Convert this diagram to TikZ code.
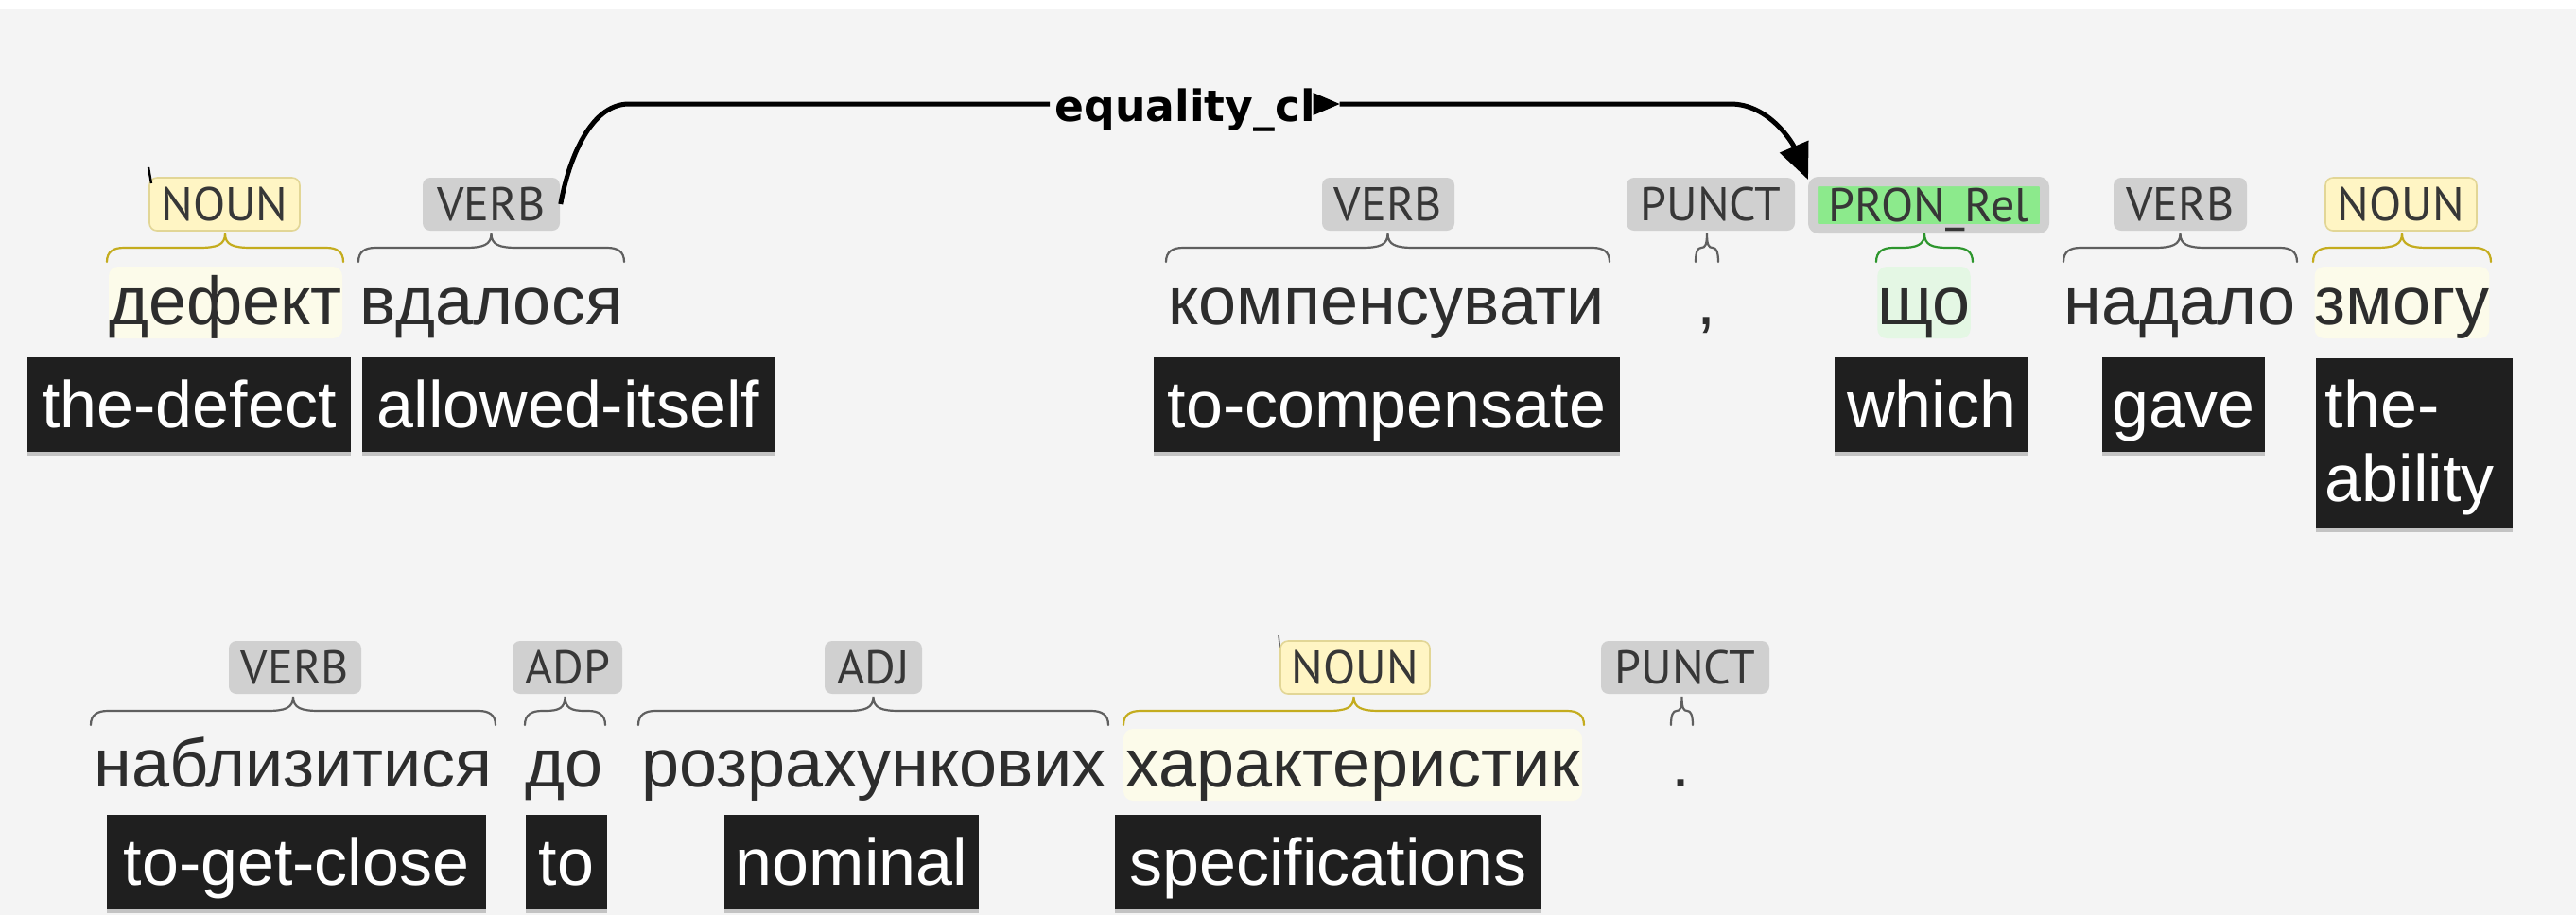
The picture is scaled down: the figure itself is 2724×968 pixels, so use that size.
\documentclass[tikz,border=0pt]{standalone}
\usepackage{fontspec}
\usetikzlibrary{arrows.meta,shadows}
\newfontfamily\tagfont{PT Sans}
\newfontfamily\wordfont{Liberation Sans}
\newfontfamily\arcfont{DejaVu Sans}
\definecolor{canvas}{RGB}{244,244,244}
\definecolor{taggray}{RGB}{208,208,208}
\definecolor{tagink}{RGB}{55,55,55}
\definecolor{nounfill}{RGB}{255,245,196}
\definecolor{nounedge}{RGB}{226,214,150}
\definecolor{pronfill}{RGB}{140,234,140}
\definecolor{wordink}{RGB}{45,45,45}
\definecolor{nounhl}{RGB}{252,251,234}
\definecolor{pronhl}{RGB}{228,247,228}
\definecolor{glossfill}{RGB}{31,31,31}
\definecolor{bracegray}{RGB}{95,95,95}
\definecolor{braceyellow}{RGB}{196,172,30}
\definecolor{bracegreen}{RGB}{45,150,45}

% curly brace from a token span up to its tag: left x, right x, tip y
\newcommand\tokbrace[4][bracegray]{%
  \pgfmathsetmacro\bxl{#2}%
  \pgfmathsetmacro\bxr{#3}%
  \pgfmathsetmacro\bxc{(#2+#3)/2}%
  \pgfmathsetmacro\bew{min(18,(#3-#2)/4)}%
  \pgfmathsetmacro\brw{min(28,(#3-#2)/4)}%
  \pgfmathsetmacro\byt{#4}%
  \pgfmathsetmacro\bym{#4+15}%
  \pgfmathsetmacro\byb{#4+30}%
  \draw[braceline,#1] (\bxl,\byb) .. controls (\bxl,\bym+4) and (\bxl+0.4*\bew,\bym) .. (\bxl+\bew,\bym)
     -- (\bxc-\brw,\bym) .. controls (\bxc-0.3*\brw,\bym) and (\bxc,\bym-3) .. (\bxc,\byt)
     .. controls (\bxc,\bym-3) and (\bxc+0.3*\brw,\bym) .. (\bxc+\brw,\bym)
     -- (\bxr-\bew,\bym) .. controls (\bxr-0.4*\bew,\bym) and (\bxr,\bym+4) .. (\bxr,\byb);
}

\begin{document}
\begin{tikzpicture}[x=0.25pt,y=-0.25pt,
  postag/.style={fill=taggray, rounded corners=2pt, text=tagink,
    font=\tagfont\fontsize{12.5}{14}\selectfont, inner sep=0pt,
    text height=8.75pt, text depth=0pt, minimum height=14pt},
  nountag/.style={postag, fill=nounfill, draw=nounedge, line width=0.4pt},
  tokword/.style={font=\wordfont\fontsize{18}{20}\selectfont, text=wordink,
    inner sep=0pt, text height=15.25pt, text depth=3.75pt,
    rounded corners=2.5pt, anchor=base},
  glossbox/.style={fill=glossfill, inner sep=0pt,
    drop shadow={shadow xshift=0pt, shadow yshift=-1pt, opacity=0.2, fill=black}},
  glosstext/.style={text=white, font=\wordfont\fontsize{17.5}{20}\selectfont, inner sep=0pt},
  gloss/.style={glossbox, glosstext, text height=18.5pt, text depth=6.5pt, anchor=base},
  braceline/.style={line width=0.55pt, line cap=round},
  arcline/.style={line width=1.25pt, black},
  arclabel/.style={font=\arcfont\bfseries\fontsize{11.4}{13}\selectfont,
    inner xsep=1.25pt, inner ysep=0pt, text=black},
]
% canvas
\fill[white] (0,0) rectangle (2724,968);
\fill[canvas] (0,10) rectangle (2724,968);
\useasboundingbox (0,0) rectangle (2724,968);

% ---------- first line: tags ----------
\node[nountag, minimum width=39.75pt] (t1) at (237.5,216) {NOUN};
\node[postag, minimum width=36.25pt] (t2) at (519.5,216) {VERB};
\node[postag, minimum width=35pt]    (t3) at (1468,216) {VERB};
\node[postag, minimum width=44.5pt]  (t4) at (1809,216) {PUNCT};
\node[postag, fill=pronfill, draw=taggray, line width=2.5pt, rounded corners=1.5pt,
      minimum width=61.25pt, minimum height=12.5pt] (pron) at (2039.5,217) {PRON\_Rel};
\node[postag, minimum width=35.25pt] (t6) at (2305.5,216) {VERB};
\node[nountag, minimum width=40pt]   (t7) at (2539,216) {NOUN};

% ---------- first line: braces ----------
\tokbrace[braceyellow]{113}{363}{247}
\tokbrace{379}{660}{247}
\tokbrace{1233}{1702}{247}
\tokbrace{1793}{1817}{247}
\tokbrace[bracegreen]{1984}{2086}{247}
\tokbrace{2182}{2429}{247}
\tokbrace[braceyellow]{2446}{2634}{247}

% ---------- first line: tokens ----------
\node[tokword, fill=nounhl, minimum width=61.75pt] (w1) at (238.5,343) {дефект};
\node[tokword] (w2) at (519.5,343) {вдалося};
\node[tokword] (w3) at (1466,343) {компенсувати};
\node[tokword] (w4) at (1804,343) {,};
\node[tokword, fill=pronhl, minimum width=24.5pt] (w5) at (2034.5,343) {що};
\node[tokword] (w6) at (2305,343) {надало};
\node[tokword, fill=nounhl, minimum width=46pt] (w7) at (2540,343) {змогу};

% ---------- first line: glosses ----------
\node[gloss, minimum width=85.5pt]   (g1) at (200,452) {the-defect};
\node[gloss, minimum width=109pt]    (g2) at (601,452) {allowed-itself};
\node[gloss, minimum width=123.25pt] (g3) at (1466.5,452) {to-compensate};
\node[gloss, minimum width=51.25pt]  (g5) at (2042.5,452) {which};
\node[gloss, minimum width=43pt]     (g6) at (2309,452) {gave};
\node[glossbox, anchor=north west, minimum width=52pt, minimum height=45pt] (g7) at (2448,378) {};
\node[glosstext, anchor=base west] (g7a) at (2458,452) {the-};
\node[glosstext, anchor=base west] (g7b) at (2458,530) {ability};

% ---------- dependency arc ----------
\coordinate (arcL) at (665,110);
\coordinate (arcR) at (1830,110);
\node[arclabel, anchor=base west] (lab) at (1110,128) {equality\_cl};
\draw[arcline] (t2.east) .. controls (600,175) and (622,110) .. (arcL) -- (lab.west |- arcL);
\coordinate (tri) at (lab.east |- arcL);
\fill (tri) ++(-8,-12) -- ++(28,12) -- ++(-28,12) -- cycle;
\draw[arcline, -{Triangle[length=9.5pt,width=8pt]}]
  ([xshift=5pt]tri) -- (arcR) .. controls (1870,110) and (1895,150) .. ([yshift=-0.75pt]pron.north west);

% stray arc stubs next to the noun tags
\draw[line width=0.6pt, black] (157,177) -- (160,194);
\draw[line width=0.4pt, black!60] (1352,672) -- (1354,689);

% ---------- second line: tags ----------
\node[postag, minimum width=35pt]    (u1) at (312,706) {VERB};
\node[postag, minimum width=29pt]    (u2) at (600,706) {ADP};
\node[postag, minimum width=25.75pt] (u3) at (923.5,706) {ADJ};
\node[nountag, minimum width=39.5pt] (u4) at (1433,706) {NOUN};
\node[postag, minimum width=44.5pt]  (u5) at (1782,706) {PUNCT};

% ---------- second line: braces ----------
\tokbrace{96}{524}{737}
\tokbrace{555}{640}{737}
\tokbrace{675}{1172}{737}
\tokbrace[braceyellow]{1188}{1675}{737}
\tokbrace{1767}{1790}{737}

% ---------- second line: tokens ----------
\node[tokword] (x1) at (310,832) {наблизитися};
\node[tokword] (x2) at (597,832) {до};
\node[tokword] (x3) at (924,832) {розрахункових};
\node[tokword, fill=nounhl, minimum width=121.25pt] (x4) at (1430.5,832) {характеристик};
\node[tokword] (x5) at (1777,832) {.};

% ---------- second line: glosses ----------
\node[gloss, minimum width=100.25pt] (h1) at (313.5,936) {to-get-close};
\node[gloss, minimum width=21.5pt]   (h2) at (599,936) {to};
\node[gloss, minimum width=67.25pt]  (h3) at (900.5,936) {nominal};
\node[gloss, minimum width=112.75pt] (h4) at (1404.5,936) {specifications};
\end{tikzpicture}
\end{document}
